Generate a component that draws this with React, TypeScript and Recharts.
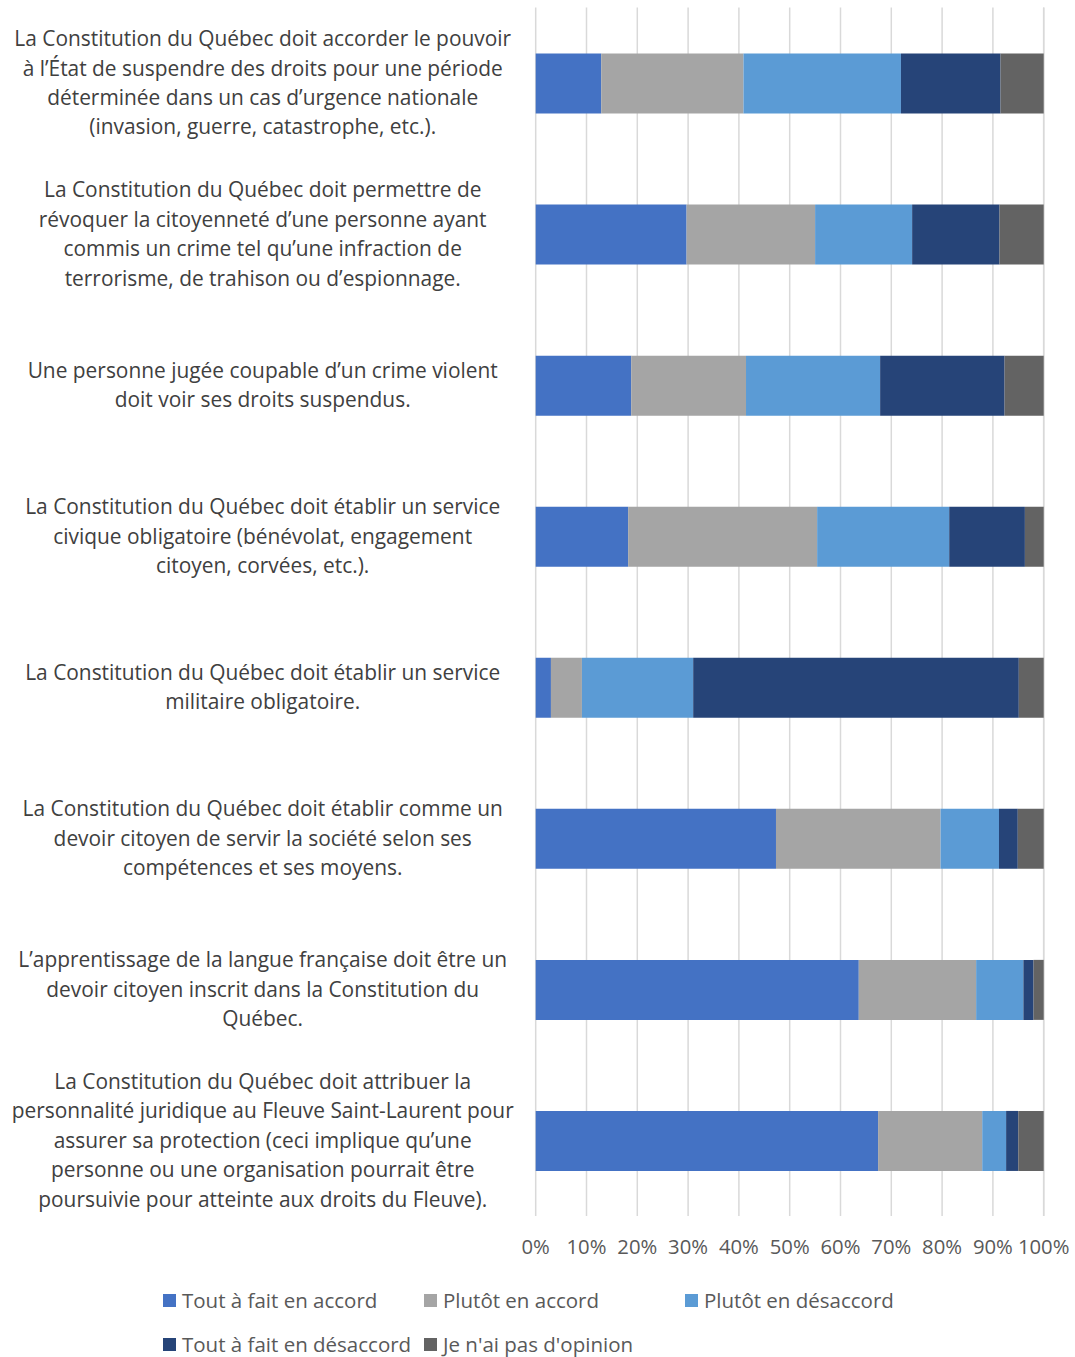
import React from "react";
import { BarChart, Bar, XAxis, YAxis, CartesianGrid, Legend } from "recharts";

const categories = [
  "La Constitution du Québec doit accorder le pouvoir\nà l’État de suspendre des droits pour une période\ndéterminée dans un cas d’urgence nationale\n(invasion, guerre, catastrophe, etc.).",
  "La Constitution du Québec doit permettre de\nrévoquer la citoyenneté d’une personne ayant\ncommis un crime tel qu’une infraction de\nterrorisme, de trahison ou d’espionnage.",
  "Une personne jugée coupable d’un crime violent\ndoit voir ses droits suspendus.",
  "La Constitution du Québec doit établir un service\ncivique obligatoire (bénévolat, engagement\ncitoyen, corvées, etc.).",
  "La Constitution du Québec doit établir un service\nmilitaire obligatoire.",
  "La Constitution du Québec doit établir comme un\ndevoir citoyen de servir la société selon ses\ncompétences et ses moyens.",
  "L’apprentissage de la langue française doit être un\ndevoir citoyen inscrit dans la Constitution du\nQuébec.",
  "La Constitution du Québec doit attribuer la\npersonnalité juridique au Fleuve Saint-Laurent pour\nassurer sa protection (ceci implique qu’une\npersonne ou une organisation pourrait être\npoursuivie pour atteinte aux droits du Fleuve).",
];

const toutAccord = [12.9, 29.7, 18.8, 18.2, 3.0, 47.3, 63.6, 67.4];
const plutotAccord = [28.0, 25.3, 22.6, 37.2, 6.1, 32.4, 23.1, 20.5];
const plutotDesaccord = [31.0, 19.1, 26.4, 26.0, 21.9, 11.5, 9.3, 4.7];
const toutDesaccord = [19.6, 17.2, 24.5, 14.9, 64.1, 3.7, 2.0, 2.4];
const sansOpinion = [8.5, 8.7, 7.7, 3.7, 4.9, 5.1, 2.0, 5.0];

const xTicks = [0, 10, 20, 30, 40, 50, 60, 70, 80, 90, 100];

const seriesNames = [
  "Tout à fait en accord",
  "Plutôt en accord",
  "Plutôt en désaccord",
  "Tout à fait en désaccord",
  "Je n'ai pas d'opinion",
];
const seriesKeys = ["s0", "s1", "s2", "s3", "s4"];
const seriesColors = ["#4472C4", "#A5A5A5", "#5B9BD5", "#264478", "#636363"];
const seriesValues = [toutAccord, plutotAccord, plutotDesaccord, toutDesaccord, sansOpinion];

const data = categories.map((c, i) => {
  const row: any = { cat: c };
  seriesKeys.forEach((k, j) => {
    row[k] = seriesValues[j][i];
  });
  return row;
});

const FONT = "'Open Sans', sans-serif";

const YTick = (props: any) => {
  const { x, y, payload } = props;
  const lines = String(payload.value).split("\n");
  const lh = 29.4;
  const cx = x - 265;
  const startY = y - ((lines.length - 1) * lh) / 2;
  return (
    <text x={cx} y={startY} textAnchor="middle" fill="#404040" fontSize={20.9} fontFamily={FONT}>
      {lines.map((l, i) => (
        <tspan key={i} x={cx} y={startY + i * lh} dy="0.35em">
          {l}
        </tspan>
      ))}
    </text>
  );
};

const XTick = (props: any) => {
  const { x, y, payload } = props;
  return (
    <text x={x} y={y} dy={30} textAnchor="middle" fill="#595959" fontSize={20.3} fontFamily={FONT}>
      {payload.value + "%"}
    </text>
  );
};

const LegendContent = () => {
  return (
    <div style={{ width: 800, fontFamily: FONT, fontSize: 20.5, color: "#595959" }}>
      {[0, 1].map((row) => (
        <div key={row} style={{ display: "flex", height: 44, alignItems: "center" }}>
          {seriesNames
            .map((n, i) => ({ n, i }))
            .filter(({ i }) => Math.floor(i / 3) === row)
            .map(({ n, i }) => (
              <div key={i} style={{ width: 261, display: "flex", alignItems: "center" }}>
                <span
                  style={{
                    display: "inline-block",
                    width: 13,
                    height: 13,
                    background: seriesColors[i],
                    marginRight: 6,
                  }}
                />
                <span style={{ whiteSpace: "nowrap" }}>{n}</span>
              </div>
            ))}
        </div>
      ))}
    </div>
  );
};

export default function App() {
  return (
    <div style={{ position: "absolute", left: 0, top: 0, width: 1075, height: 1357, background: "#fff" }}>
      <BarChart
        width={1075}
        height={1357}
        data={data}
        layout="vertical"
        margin={{ top: 7.5, right: 31.3, bottom: 13, left: 0 }}
        barSize={60}
      >
        <CartesianGrid horizontal={false} stroke="#d9d9d9" strokeWidth={1.5} />
        <XAxis
          type="number"
          domain={[0, 100]}
          ticks={xTicks}
          axisLine={false}
          tickLine={false}
          tick={<XTick />}
          height={40}
          interval={0}
        />
        <YAxis
          type="category"
          dataKey="cat"
          width={535.7}
          axisLine={false}
          tickLine={false}
          tick={<YTick />}
          interval={0}
        />
        <Legend
          content={<LegendContent />}
          wrapperStyle={{ position: "absolute", left: 163, top: 1278, width: 800 }}
        />
        {seriesKeys.map((k, i) => (
          <Bar
            key={k}
            dataKey={k}
            name={seriesNames[i]}
            stackId="a"
            fill={seriesColors[i]}
            isAnimationActive={false}
          />
        ))}
      </BarChart>
    </div>
  );
}
